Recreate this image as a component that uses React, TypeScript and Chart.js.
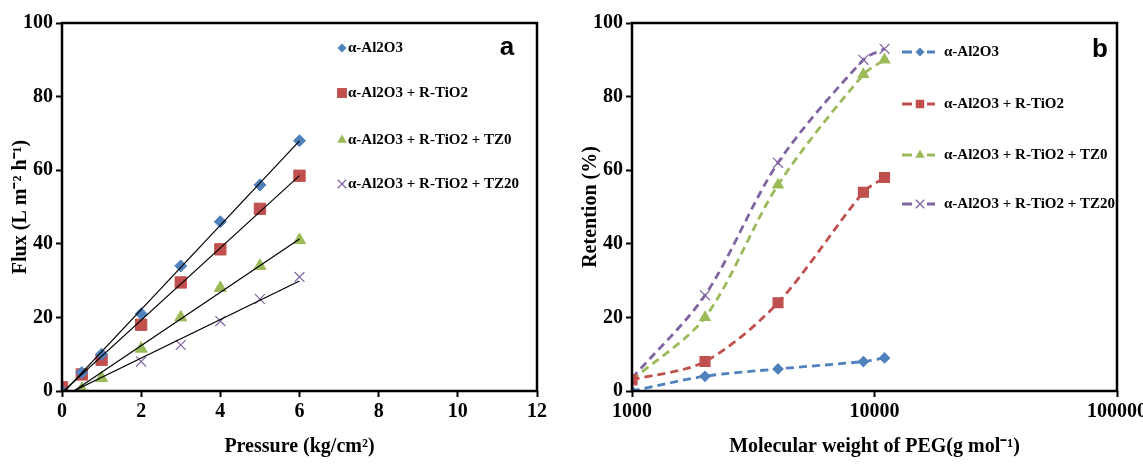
import React, { useEffect, useRef } from 'react';
import { Chart, registerables } from 'chart.js';
Chart.register(...registerables);

// ---------- data (panel a) ----------
const pressure = [0, 0.5, 1, 2, 3, 4, 5, 6];
const fluxAl2O3 = [0, 5, 10, 21, 34, 46, 56, 68];
const fluxTiO2 = [1, 4.5, 8.5, 18, 29.5, 38.5, 49.5, 58.5];
const fluxTZ0 = [0, 0.5, 3.5, 11.5, 20, 28, 34, 41];
const pressureTZ20 = [0, 2, 3, 4, 5, 6];
const fluxTZ20 = [0, 8, 12.5, 19, 25, 31];
const pressureTicks = [0, 2, 4, 6, 8, 10, 12];
const fluxTicks = [0, 20, 40, 60, 80, 100];

// ---------- data (panel b) ----------
const pegMW = [1000, 2000, 4000, 9000, 11000];
const retAl2O3 = [0, 4, 6, 8, 9];
const retTiO2 = [3, 8, 24, 54, 58];
const retTZ0 = [3, 20, 56, 86, 90];
const retTZ20 = [3.5, 26, 62, 90, 93];
const mwTicks = [1000, 10000, 100000];
const retTicks = [0, 20, 40, 60, 80, 100];

const seriesLabels = ['α-Al2O3', 'α-Al2O3 + R-TiO2', 'α-Al2O3 + R-TiO2 + TZ0', 'α-Al2O3 + R-TiO2 + TZ20'];
const seriesColors = ['#4F81BD', '#C0504D', '#9BBB59', '#8064A2'];
const seriesStyles = ['rectRot', 'rect', 'triangle', 'crossRot'];

const SERIF = '"Liberation Serif", "Times New Roman", serif';
const tickFont = { family: SERIF, size: 20, weight: 'bold' as const };
const titleFont = { family: SERIF, size: 20, weight: 'bold' as const };

function pts(xs: number[], ys: number[]) {
  return xs.map((x, i) => ({ x, y: ys[i] }));
}

function fitLine(xs: number[], ys: number[]) {
  const n = xs.length;
  const mx = xs.reduce((a, b) => a + b, 0) / n;
  const my = ys.reduce((a, b) => a + b, 0) / n;
  let sxy = 0, sxx = 0;
  for (let i = 0; i < n; i++) { sxy += (xs[i] - mx) * (ys[i] - my); sxx += (xs[i] - mx) ** 2; }
  const m = sxy / sxx;
  const b = my - m * mx;
  const x0 = Math.min(...xs), x1 = Math.max(...xs);
  return [{ x: x0, y: m * x0 + b }, { x: x1, y: m * x1 + b }];
}

function drawMarker(ctx: CanvasRenderingContext2D, style: string, x: number, y: number, r: number, color: string) {
  ctx.save();
  ctx.fillStyle = color;
  ctx.strokeStyle = color;
  ctx.lineWidth = 1.3;
  ctx.beginPath();
  if (style === 'rectRot') {
    ctx.moveTo(x, y - r); ctx.lineTo(x + r, y); ctx.lineTo(x, y + r); ctx.lineTo(x - r, y); ctx.closePath(); ctx.fill();
  } else if (style === 'rect') {
    const s = r * Math.SQRT1_2;
    ctx.rect(x - s, y - s, 2 * s, 2 * s); ctx.fill();
  } else if (style === 'triangle') {
    for (let k = 0; k < 3; k++) {
      const a = k * (2 * Math.PI / 3);
      const px = x + Math.sin(a) * r, py = y - Math.cos(a) * r;
      if (k === 0) ctx.moveTo(px, py); else ctx.lineTo(px, py);
    }
    ctx.closePath(); ctx.fill();
  } else if (style === 'crossRot') {
    const d = r * Math.SQRT1_2;
    ctx.moveTo(x - d, y - d); ctx.lineTo(x + d, y + d);
    ctx.moveTo(x + d, y - d); ctx.lineTo(x - d, y + d);
    ctx.stroke();
  }
  ctx.restore();
}

type LegendSpec = {
  letter: string; letterX: number; letterY: number;
  rows: number[]; markerX: number; textX: number; radius: number[];
  dashed: boolean;
};

function framePlugin(spec: LegendSpec) {
  return {
    id: 'frameLegend',
    afterDraw(chart: any) {
      const ctx: CanvasRenderingContext2D = chart.ctx;
      const a = chart.chartArea;
      ctx.save();
      ctx.strokeStyle = '#000';
      ctx.lineWidth = 2.5;
      ctx.strokeRect(a.left, a.top, a.right - a.left, a.bottom - a.top);
      // legend
      ctx.font = `bold 15px ${SERIF}`;
      ctx.textBaseline = 'middle';
      ctx.textAlign = 'left';
      seriesLabels.forEach((label, i) => {
        const y = spec.rows[i];
        const color = seriesColors[i];
        if (spec.dashed) {
          ctx.save();
          ctx.strokeStyle = color;
          ctx.lineWidth = 2.8;
          ctx.beginPath();
          ctx.moveTo(spec.markerX - 18, y); ctx.lineTo(spec.markerX - 8, y);
          ctx.moveTo(spec.markerX + 7, y); ctx.lineTo(spec.markerX + 15, y);
          ctx.stroke();
          ctx.restore();
        }
        drawMarker(ctx, seriesStyles[i], spec.markerX, y, spec.radius[i], color);
        ctx.fillStyle = '#000';
        ctx.fillText(label, spec.textX, y);
      });
      ctx.font = `bold 26px "Liberation Sans", Arial, sans-serif`;
      ctx.textAlign = 'center';
      ctx.fillText(spec.letter, spec.letterX, spec.letterY);
      ctx.restore();
    },
  };
}

function axisCommon(fixed: (s: any) => void, ticks: number[], title: string, titlePad: any) {
  return {
    afterBuildTicks: (s: any) => { s.ticks = ticks.map((v) => ({ value: v })); },
    afterFit: fixed,
    grid: { display: true, drawOnChartArea: false, drawTicks: true, tickLength: 6, tickWidth: 2, tickColor: '#000', color: '#000' },
    border: { display: false },
    ticks: { font: tickFont, color: '#000', padding: 3, autoSkip: false, maxRotation: 0, callback: (v: any) => String(v) },
    title: { display: true, text: title, font: titleFont, color: '#000', padding: titlePad },
  };
}

function leftConfig(): any {
  const scatter = (i: number, xs: number[], ys: number[], r: number, bw = 1) => ({
    type: 'scatter',
    label: seriesLabels[i],
    data: pts(xs, ys),
    pointStyle: seriesStyles[i],
    pointRadius: r,
    pointBackgroundColor: seriesColors[i],
    pointBorderColor: seriesColors[i],
    pointBorderWidth: bw,
    showLine: false,
    order: 2,
  });
  const trend = (xs: number[], ys: number[]) => ({
    type: 'scatter',
    data: fitLine(xs, ys),
    showLine: true,
    borderColor: '#000',
    borderWidth: 1.2,
    pointRadius: 0,
    order: 1,
  });
  return {
    type: 'scatter',
    data: {
      datasets: [
        scatter(0, pressure, fluxAl2O3, 6),
        scatter(1, pressure, fluxTiO2, 8),
        scatter(2, pressure, fluxTZ0, 7),
        scatter(3, pressureTZ20, fluxTZ20, 7, 1.2),
        trend(pressure, fluxAl2O3),
        trend(pressure, fluxTiO2),
        trend(pressure, fluxTZ0),
        trend(pressureTZ20, fluxTZ20),
      ],
    },
    options: {
      responsive: false,
      animation: false,
      layout: { padding: { left: 0, right: 28, top: 23, bottom: 0 } },
      plugins: { legend: { display: false }, tooltip: { enabled: false } },
      scales: {
        x: { type: 'linear', min: 0, max: 12, ...axisCommon((s: any) => { s.height = 74; }, pressureTicks, 'Pressure (kg/cm²)', { top: 0, bottom: 6 }) },
        y: { type: 'linear', min: 0, max: 100, ...axisCommon((s: any) => { s.width = 62; }, fluxTicks, 'Flux (L m⁻² h⁻¹)', { top: 9, bottom: 0 }) },
      },
    },
    plugins: [framePlugin({
      letter: 'a', letterX: 507, letterY: 48,
      rows: [48, 93, 140, 184], markerX: 342, textX: 348, radius: [4.5, 7, 5.5, 6],
      dashed: false,
    })],
  };
}

function rightConfig(): any {
  const line = (i: number, ys: number[], r: number) => ({
    type: 'line',
    label: seriesLabels[i],
    data: pts(pegMW, ys),
    borderColor: seriesColors[i],
    borderWidth: 2.8,
    borderDash: [8, 5],
    tension: 0.3,
    fill: false,
    pointStyle: seriesStyles[i],
    pointRadius: r,
    pointBackgroundColor: seriesColors[i],
    pointBorderColor: seriesColors[i],
    pointBorderWidth: 1.2,
  });
  return {
    type: 'line',
    data: {
      datasets: [
        line(0, retAl2O3, 5),
        line(1, retTiO2, 7),
        line(2, retTZ0, 6),
        line(3, retTZ20, 7),
      ],
    },
    options: {
      responsive: false,
      animation: false,
      layout: { padding: { left: 0, right: 30, top: 23, bottom: 0 } },
      plugins: { legend: { display: false }, tooltip: { enabled: false } },
      scales: {
        x: { type: 'logarithmic', min: 1000, max: 100000, ...axisCommon((s: any) => { s.height = 74; }, mwTicks, 'Molecular weight of PEG(g mol⁻¹)', { top: 0, bottom: 6 }) },
        y: { type: 'linear', min: 0, max: 100, ...axisCommon((s: any) => { s.width = 62; }, retTicks, 'Retention (%)', { top: 9, bottom: 0 }) },
      },
    },
    plugins: [framePlugin({
      letter: 'b', letterX: 530, letterY: 50,
      rows: [52, 104, 155, 204], markerX: 350, textX: 374, radius: [4.5, 6, 5.5, 6],
      dashed: true,
    })],
  };
}

export default function App() {
  const leftRef = useRef<HTMLCanvasElement>(null);
  const rightRef = useRef<HTMLCanvasElement>(null);
  useEffect(() => {
    const c1 = new Chart(leftRef.current as HTMLCanvasElement, leftConfig());
    const c2 = new Chart(rightRef.current as HTMLCanvasElement, rightConfig());
    return () => { c1.destroy(); c2.destroy(); };
  }, []);
  return (
    <div style={{ position: 'fixed', left: 0, top: 0, width: 1143, height: 465, background: '#fff', overflow: 'hidden' }}>
      <div style={{ position: 'absolute', left: 0, top: 0, width: 565, height: 465 }}>
        <canvas ref={leftRef} width={565} height={465} style={{ display: 'block' }} />
      </div>
      <div style={{ position: 'absolute', left: 570, top: 0, width: 580, height: 465 }}>
        <canvas ref={rightRef} width={580} height={465} style={{ display: 'block' }} />
      </div>
    </div>
  );
}
